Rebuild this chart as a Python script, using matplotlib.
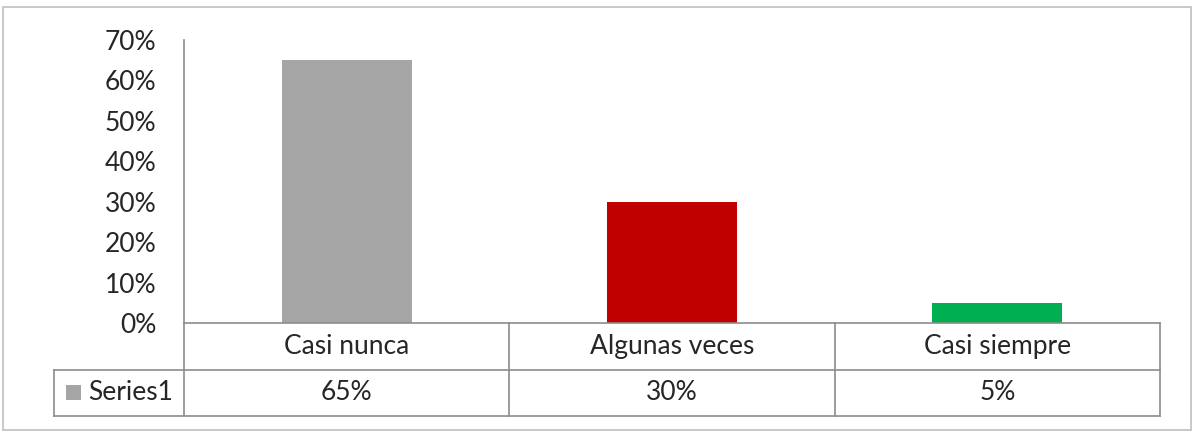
import numpy as np
import matplotlib.pyplot as plt
from matplotlib.patches import Rectangle

# data
categories = ['Casi nunca', 'Algunas veces', 'Casi siempre']
values = [0.65, 0.30, 0.05]
series_name = 'Series1'
bar_colors = ['#A5A5A5', '#C00000', '#00B050']
yticks = [0.0, 0.1, 0.2, 0.3, 0.4, 0.5, 0.6, 0.7]

plt.rcParams['font.family'] = ['Lato', 'DejaVu Sans']
FS = 19
LINE = '#8C8C8C'

W, H = 1201, 432
fig = plt.figure(figsize=(W / 100, H / 100), dpi=100)


def px(x0, y0, x1, y1):
    # pixel box -> figure fraction rect
    return [x0 / W, 1 - y1 / H, (x1 - x0) / W, (y1 - y0) / H]


# outer chart frame
fig.patches.append(Rectangle((3 / W, 1 - 430 / H), (1191 - 3) / W, (430 - 7) / H,
                             transform=fig.transFigure, fill=False,
                             edgecolor='#BFBFBF', linewidth=1.2))

# bars
ax = fig.add_axes(px(184, 40, 1160, 323))
x = np.arange(len(categories))
ax.bar(x, values, width=0.4, color=bar_colors, zorder=2)
ax.set_xlim(-0.5, len(categories) - 0.5)
ax.set_ylim(0, 0.70)
ax.set_yticks(yticks)
ax.set_yticklabels([f'{round(v * 100)}%' for v in yticks], fontsize=FS, color='#262626')
ax.tick_params(axis='y', length=0, pad=20)
ax.set_xticks([])
for s in ['top', 'right', 'bottom']:
    ax.spines[s].set_visible(False)
ax.spines['left'].set_color(LINE)
ax.spines['left'].set_linewidth(1.2)

# data table below the plot
tax = fig.add_axes(px(54, 323, 1160, 416))
key_w = 130 / 325.33
left = -0.5 - key_w
tax.set_xlim(left, len(categories) - 0.5)
tax.set_ylim(2, 0)
tax.axis('off')
lw = 1.2
n = len(categories)
tax.plot([-0.5, n - 0.5], [0, 0], color=LINE, lw=lw, clip_on=False)
tax.plot([left, n - 0.5], [1, 1], color=LINE, lw=lw, clip_on=False)
tax.plot([left, n - 0.5], [2, 2], color=LINE, lw=lw, clip_on=False)
tax.plot([left, left], [1, 2], color=LINE, lw=lw, clip_on=False)
for b in np.arange(n + 1) - 0.5:
    tax.plot([b, b], [0, 2], color=LINE, lw=lw, clip_on=False)

for i, (c, v) in enumerate(zip(categories, values)):
    tax.text(i, 0.5, c, ha='center', va='center', fontsize=FS, color='#262626')
    tax.text(i, 1.5, f'{round(v * 100)}%', ha='center', va='center',
             fontsize=FS, color='#262626')

# legend key + series name
kx = left + 12 / 325.33
tax.add_patch(Rectangle((kx, 1.5 - 0.16), 15 / 325.33, 0.32,
                        facecolor=bar_colors[0], edgecolor='none'))
tax.text(left + 34 / 325.33, 1.5, series_name, ha='left', va='center',
         fontsize=FS, color='#262626')

fig.savefig('out.png', dpi=100)
